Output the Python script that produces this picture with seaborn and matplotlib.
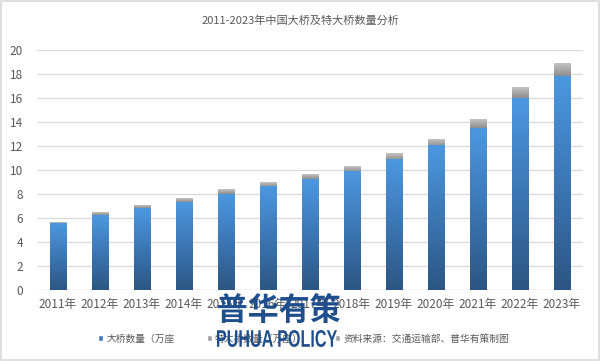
import numpy as np
import pandas as pd
import matplotlib
matplotlib.use("Agg")
import matplotlib.pyplot as plt
from matplotlib.colors import LinearSegmentedColormap
from matplotlib.patches import Patch, Rectangle, PathPatch
from matplotlib.textpath import TextPath
from matplotlib.font_manager import FontProperties
from matplotlib.transforms import Affine2D, IdentityTransform
import seaborn as sns

# data (unit: 万座)
years = ["2011年", "2012年", "2013年", "2014年", "2015年", "2016年", "2017年",
         "2018年", "2019年", "2020年", "2021年", "2022年", "2023年"]
big_bridges = [5.53, 6.22, 6.80, 7.30, 7.97, 8.60, 9.22, 9.86, 10.86, 12.02, 13.48, 16.00, 17.80]
super_bridges = [0.12, 0.22, 0.21, 0.29, 0.37, 0.40, 0.40, 0.47, 0.53, 0.58, 0.72, 0.84, 1.02]
legend_labels = ["大桥数量（万座", "特大桥数量（万座）", "资料来源：交通运输部、普华有策制图"]
title = "2011-2023年中国大桥及特大桥数量分析"

df = pd.DataFrame({"year": years, "big": big_bridges, "super": super_bridges})
df["total"] = df["big"] + df["super"]

sns.set_theme(style="white")
plt.rcParams["font.family"] = ["Noto Sans CJK SC", "DejaVu Sans"]
text_color = "#595959"
mark_color = "#1F4E8C"

fig = plt.figure(figsize=(6.01, 3.61), dpi=100)
ax = fig.add_axes([0.0616, 0.1967, 0.9084, 0.6648])

# gray (total) first, blue on top of it
sns.barplot(data=df, x="year", y="total", color="#A6A6A6", width=0.39, ax=ax)
sns.barplot(data=df, x="year", y="big", color="#4A90D9", width=0.39, ax=ax)

blue_cmap = LinearSegmentedColormap.from_list("blue", ["#2C5682", "#3C76B4", "#4C98E0"])
gray_cmap = LinearSegmentedColormap.from_list("gray", ["#8E8E8E", "#A8A8A8", "#C4C4C4"])
grad = np.linspace(0, 1, 256).reshape(-1, 1)

n = len(years)
patches = list(ax.patches)
for i, p in enumerate(patches):
    x0, w = p.get_x(), p.get_width()
    if i < n:
        # gray part sits between the blue top and the total
        y0 = df["big"].iloc[i]
        y1 = df["total"].iloc[i]
        cmap = gray_cmap
    else:
        y0, y1 = 0, p.get_height()
        cmap = blue_cmap
    ax.imshow(grad, extent=[x0, x0 + w, y0, y1], origin="lower", aspect="auto",
              cmap=cmap, zorder=3)
    p.set_visible(False)

ax.set_xlim(-0.5, n - 0.5)
ax.set_ylim(0, 20)
ax.set_yticks(range(0, 21, 2))
ax.yaxis.grid(True, color="#D9D9D9", linewidth=0.9)
ax.set_axisbelow(True)
for s in ax.spines.values():
    s.set_visible(False)
ax.axhline(0, color="#D9D9D9", linewidth=0.9, zorder=1)
ax.set_xlabel("")
ax.set_ylabel("")
ax.tick_params(axis="both", length=0, labelsize=8.5, labelcolor=text_color, pad=6)
ax.tick_params(axis="y", pad=10)

fig.text(0.5, 0.944, title, ha="center", va="center", fontsize=8, color=text_color)

handles = [Patch(facecolor="#3E7CC0"), Patch(facecolor="#A0A0A0"), Patch(facecolor="#A5A5A5")]
fig.legend(handles, legend_labels, loc="center", bbox_to_anchor=(0.505, 0.062), ncol=3,
           frameon=False, fontsize=7, handlelength=0.55, handleheight=0.55,
           handletextpad=0.3, columnspacing=3.3, labelcolor=text_color)


# watermark, fitted into a pixel box (left, bottom, width, height)
def stamp(s, family, box):
    tp = TextPath((0, 0), s, size=1, prop=FontProperties(family=family, weight="bold"))
    bb = tp.get_extents()
    left, bottom, width, height = box
    tr = (Affine2D().translate(-bb.x0, -bb.y0)
          .scale(width / bb.width, height / bb.height)
          .translate(left, bottom))
    fig.patches.append(PathPatch(tp, transform=tr + IdentityTransform(),
                                 facecolor=mark_color, edgecolor="none", zorder=10))


stamp("普华有策", "Noto Sans CJK SC", (218, 361 - 323, 122, 30))
stamp("PUHUA POLICY", "Liberation Sans", (217, 361 - 347, 120, 17))

# light frame around the chart
fig.patches.append(Rectangle((0.002, 0.003), 0.995, 0.994, transform=fig.transFigure,
                             fill=False, edgecolor="#D9D9D9", linewidth=1.2))

fig.savefig("out.png", dpi=100)
